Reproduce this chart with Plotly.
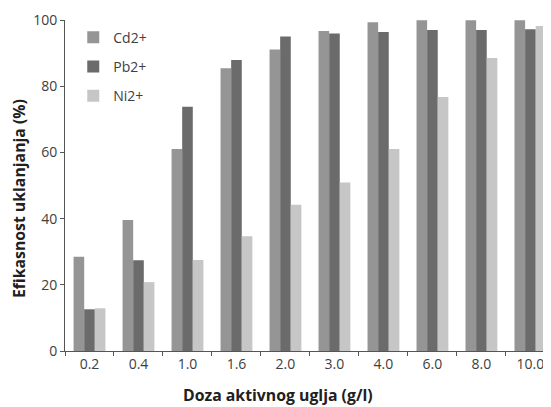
import plotly.graph_objects as go

doza = ["0.2", "0.4", "1.0", "1.6", "2.0", "3.0", "4.0", "6.0", "8.0", "10.0"]
cd = [28.5, 39.6, 61.0, 85.4, 91.1, 96.7, 99.3, 99.9, 99.9, 99.9]
pb = [12.6, 27.4, 73.8, 87.9, 95.0, 95.9, 96.4, 97.0, 97.0, 97.2]
ni = [12.9, 20.8, 27.5, 34.7, 44.2, 50.9, 61.0, 76.7, 88.5, 98.2]

serije = [("Cd2+", cd, "#959595"), ("Pb2+", pb, "#6b6b6b"), ("Ni2+", ni, "#c6c6c6")]

fig = go.Figure()
for ime, vrijednosti, boja in serije:
    fig.add_trace(go.Bar(
        x=doza, y=vrijednosti, name=ime, legendgroup=ime,
        marker=dict(color=boja, line=dict(width=0)),
    ))

# nazivi osi kao anotacije (u originalu nisu centrirani na os)
naslov_font = dict(size=15.8, color="#202020")
fig.add_annotation(
    text="<b>Doza aktivnog uglja (g/l)</b>", showarrow=False,
    xref="paper", yref="paper", x=0.438, y=0, yshift=-44,
    xanchor="center", yanchor="middle", font=naslov_font,
)
fig.add_annotation(
    text="<b>Efikasnost uklanjanja (%)</b>", showarrow=False, textangle=-90,
    xref="paper", yref="paper", x=0, xshift=-46, y=0.459,
    xanchor="center", yanchor="middle", font=naslov_font,
)

# stranica ima 8px margine oko grafa, pa je graf malo manji
font = "Open Sans, Liberation Sans, sans-serif"
fig.update_layout(
    width=543, height=399,
    barmode="group", bargap=0.35, bargroupgap=0,
    plot_bgcolor="white", paper_bgcolor="white",
    margin=dict(l=57, r=0, t=12, b=56, autoexpand=False),
    font=dict(family=font, size=14, color="#404040"),
    legend=dict(
        x=0.017, y=0.995, xanchor="left", yanchor="top",
        bgcolor="rgba(0,0,0,0)", tracegroupgap=8,
        font=dict(size=14, color="#404040"),
        itemwidth=30,
    ),
    xaxis=dict(
        type="category", range=[-0.5, 9.42], automargin=False,
        showline=True, linecolor="#555555", linewidth=1,
        ticks="outside", tickson="boundaries", ticklen=4, tickcolor="#555555",
    ),
    yaxis=dict(
        range=[0, 100], dtick=20, automargin=False,
        showline=True, linecolor="#555555", linewidth=1,
        ticks="outside", ticklen=4, tickcolor="#555555",
        showgrid=False, zeroline=False,
    ),
)

fig.write_html("out.html")
